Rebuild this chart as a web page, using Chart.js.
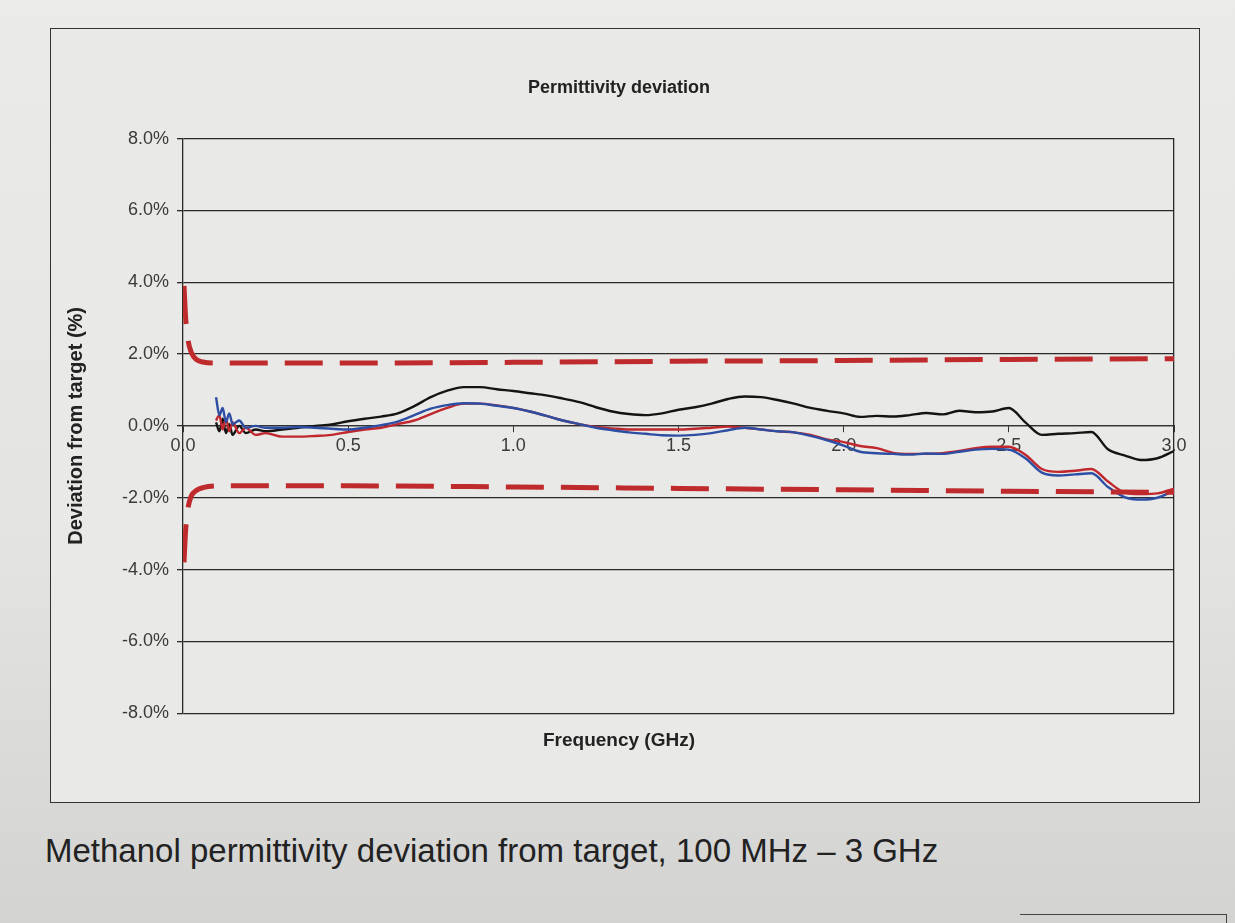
<!DOCTYPE html>
<html>
<head>
<meta charset="utf-8">
<script src="https://cdn.jsdelivr.net/npm/chart.js@4/dist/chart.umd.min.js"></script>
<style>
  body { margin: 0; height: 923px; background: linear-gradient(#ebebea, #e3e3e2 60%, #d3d3d2); font-family: "Liberation Sans", Arial, sans-serif; }
  #box { position: absolute; left: 50px; top: 28px; width: 1150px; height: 775px; border: 1.5px solid #333; box-sizing: border-box; background: #e9e9e7; }
  #caption { position: absolute; left: 45px; top: 832px; font-size: 33px; color: #222; }
  #next { position: absolute; left: 1020px; top: 914px; width: 206px; height: 40px; border-top: 1.5px solid #444; border-right: 1.5px solid #444; }
</style>
</head>
<body>
<div id="box"><canvas id="chart"></canvas></div>
<div id="caption">Methanol permittivity deviation from target, 100 MHz – 3 GHz</div>
<div id="next"></div>
<script>
// fréquences (GHz)
const freqs = [0.10, 0.11, 0.12, 0.13, 0.14, 0.15, 0.17, 0.19, 0.22, 0.25,
  0.30, 0.35, 0.40, 0.45, 0.50, 0.55, 0.60, 0.65, 0.70, 0.75, 0.80, 0.85, 0.90, 0.95,
  1.00, 1.05, 1.10, 1.15, 1.20, 1.25, 1.30, 1.35, 1.40, 1.45, 1.50, 1.55, 1.60, 1.65,
  1.70, 1.75, 1.80, 1.85, 1.90, 1.95, 2.00, 2.05, 2.10, 2.15, 2.20, 2.25, 2.30, 2.35,
  2.40, 2.45, 2.50, 2.55, 2.60, 2.65, 2.70, 2.75, 2.80, 2.85, 2.90, 2.95, 3.00];

const blackDev = [0.1, -0.15, 0.2, -0.2, 0.05, -0.25, 0.0, -0.2, -0.1, -0.15,
  -0.1, -0.05, 0.0, 0.04, 0.13, 0.2, 0.26, 0.35, 0.55, 0.8, 0.98, 1.08, 1.08, 1.02,
  0.97, 0.91, 0.85, 0.76, 0.66, 0.52, 0.4, 0.33, 0.3, 0.35, 0.45, 0.52, 0.62, 0.75,
  0.82, 0.8, 0.72, 0.62, 0.5, 0.42, 0.35, 0.25, 0.28, 0.26, 0.3, 0.36, 0.32, 0.42,
  0.38, 0.4, 0.5, 0.1, -0.25, -0.22, -0.2, -0.17, -0.65, -0.82, -0.95, -0.9, -0.7];

const redDev = [0.15, 0.3, -0.1, 0.2, -0.15, 0.1, -0.2, -0.05, -0.25, -0.2,
  -0.3, -0.3, -0.28, -0.25, -0.17, -0.1, -0.05, 0.05, 0.15, 0.33, 0.5, 0.62, 0.62, 0.57,
  0.5, 0.4, 0.28, 0.15, 0.05, -0.03, -0.07, -0.1, -0.1, -0.1, -0.1, -0.08, -0.05, -0.02,
  -0.05, -0.1, -0.15, -0.18, -0.25, -0.38, -0.45, -0.56, -0.62, -0.75, -0.78, -0.78, -0.76, -0.7,
  -0.62, -0.58, -0.58, -0.8, -1.2, -1.28, -1.25, -1.2, -1.55, -1.85, -1.9, -1.88, -1.75];

const blueDev = [0.8, 0.3, 0.5, 0.1, 0.35, 0.05, 0.15, -0.05, 0.0, -0.05,
  -0.05, -0.03, -0.05, -0.08, -0.1, -0.05, 0.02, 0.12, 0.3, 0.48, 0.58, 0.63, 0.62, 0.56,
  0.5, 0.4, 0.28, 0.15, 0.05, -0.05, -0.12, -0.18, -0.22, -0.26, -0.27, -0.25, -0.2, -0.12,
  -0.05, -0.1, -0.15, -0.18, -0.28, -0.4, -0.55, -0.72, -0.76, -0.78, -0.8, -0.77, -0.78, -0.72,
  -0.66, -0.64, -0.66, -0.9, -1.3, -1.38, -1.35, -1.32, -1.7, -1.98, -2.05, -2.0, -1.8];

// limites de tolérance
const limitFreqs = [0.003, 0.008, 0.015, 0.025, 0.04, 0.06, 0.1, 0.5, 1.0, 1.5, 2.0, 2.5, 3.0];
const upperLimit = [3.9, 3.0, 2.4, 2.05, 1.85, 1.78, 1.75, 1.75, 1.77, 1.8, 1.82, 1.85, 1.87];
const lowerLimit = [-3.8, -2.9, -2.3, -1.95, -1.8, -1.72, -1.67, -1.67, -1.7, -1.74, -1.78, -1.82, -1.85];

const yTicks = [-8, -6, -4, -2, 0, 2, 4, 6, 8];
const xTicks = [0.0, 0.5, 1.0, 1.5, 2.0, 2.5, 3.0];

const toPoints = (xs, ys) => xs.map((x, i) => ({ x: x, y: ys[i] }));

const limitStyle = {
    borderColor: '#bf2a2c',
    borderWidth: 5,
    borderDash: [38, 17],
    pointRadius: 0,
    cubicInterpolationMode: 'monotone'
};
const curveStyle = { borderWidth: 2.4, pointRadius: 0, cubicInterpolationMode: 'monotone' };

const ctx = document.getElementById('chart').getContext('2d');
new Chart(ctx, {
    type: 'line',
    data: {
        datasets: [
            Object.assign({ label: 'Upper limit', data: toPoints(limitFreqs, upperLimit) }, limitStyle),
            Object.assign({ label: 'Lower limit', data: toPoints(limitFreqs, lowerLimit) }, limitStyle),
            Object.assign({ label: 'Blue', data: toPoints(freqs, blueDev), borderColor: '#2d4ea3' }, curveStyle),
            Object.assign({ label: 'Red', data: toPoints(freqs, redDev), borderColor: '#c0282e' }, curveStyle),
            Object.assign({ label: 'Black', data: toPoints(freqs, blackDev), borderColor: '#141414' }, curveStyle)
        ]
    },
    options: {
        responsive: true,
        maintainAspectRatio: false,
        animation: false,
        layout: { padding: { left: 13, right: 25, top: 48, bottom: 50 } },
        scales: {
            x: {
                type: 'linear',
                min: 0,
                max: 3,
                position: { y: 0 },
                afterBuildTicks: axis => { axis.ticks = xTicks.map(v => ({ value: v })); },
                ticks: {
                    color: '#3a3a3a',
                    font: { family: 'Liberation Sans', size: 18 },
                    callback: v => v.toFixed(1)
                },
                grid: { drawOnChartArea: false, drawTicks: true, tickLength: 6, color: '#333' },
                border: { color: '#333', width: 1.2 }
            },
            y: {
                min: -8,
                max: 8,
                afterBuildTicks: axis => { axis.ticks = yTicks.map(v => ({ value: v })); },
                ticks: {
                    color: '#3a3a3a',
                    padding: 8,
                    font: { family: 'Liberation Sans', size: 18 },
                    callback: v => v.toFixed(1) + '%'
                },
                grid: { color: '#2a2a2a', lineWidth: 1.3, tickLength: 6 },
                border: { color: '#2a2a2a', width: 1.3 },
                title: {
                    display: true,
                    text: 'Deviation from target (%)',
                    color: '#222',
                    font: { family: 'Liberation Sans', size: 20, weight: 'bold' },
                    padding: { top: 0, bottom: 26 }
                }
            },
            y2: {
                position: 'right',
                min: -8,
                max: 8,
                ticks: { display: false },
                grid: { drawOnChartArea: false, drawTicks: false },
                border: { color: '#2a2a2a', width: 1.3 }
            }
        },
        plugins: {
            legend: { display: false },
            tooltip: { enabled: false },
            title: {
                display: true,
                text: 'Permittivity deviation',
                color: '#222',
                font: { family: 'Liberation Sans', size: 18, weight: 'bold' },
                padding: { top: 0, bottom: 40 }
            },
            subtitle: {
                display: true,
                position: 'bottom',
                text: 'Frequency (GHz)',
                color: '#222',
                font: { family: 'Liberation Sans', size: 19, weight: 'bold' },
                padding: { top: 16, bottom: 0 }
            }
        }
    }
});
</script>
</body>
</html>
